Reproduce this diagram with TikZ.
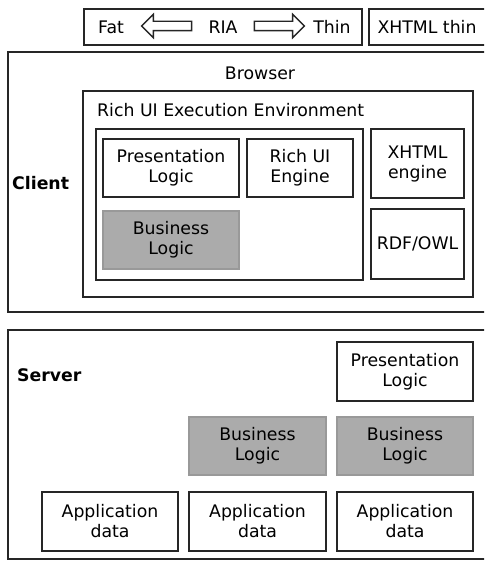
\documentclass[tikz,border=0pt]{standalone}
\usepackage{fontspec}
\setmainfont{DejaVu Sans}
\usetikzlibrary{shapes.arrows}
\begin{document}
\begin{tikzpicture}[x=1pt,y=-1pt]
            \tikzstyle{box}=[draw=black!85, line width=1.8pt, inner sep=0pt, align=center, font=\fontsize{17.3}{20}\selectfont]
            \tikzstyle{bizbox}=[box, draw=black!40, line width=1.2pt, fill=black!33]
            \tikzstyle{lbl}=[inner sep=0pt, font=\fontsize{17.3}{20}\selectfont]
            \tikzstyle{hollow}=[single arrow, draw=black!85, line width=1.4pt, fill=white, inner xsep=0pt, inner ysep=4pt, minimum height=50pt, single arrow head extend=7pt]
            \clip (0,0) rectangle (484,561);
            \fill[white] (0,0) rectangle (484,561);
            % top bar
            \node[box, minimum width=278pt, minimum height=36pt] (ria) at (223,27) {};
            \node[box, minimum width=121pt, minimum height=36pt] (xthin) at (429.5,27) {};
            \node[lbl] (fat) at (111,27) {Fat};
            \node[lbl] (mid) at (223,27) {RIA};
            \node[lbl] (thin) at (332,27) {Thin};
            \node[lbl] (xt) at (427,27) {XHTML thin};
            \node[hollow, shape border rotate=180] (toFat) at (169,26) {};
            \node[hollow] (toThin) at (277,26) {};
            % client
            \node[box, minimum width=482pt, minimum height=260pt] (client) at (249,182) {};
            \node[lbl, font=\fontsize{17.3}{20}\selectfont\bfseries, anchor=west] (clientlbl) at (12,183) {Client};
            \node[lbl] (browser) at (260,73) {Browser};
            \node[box, minimum width=390pt, minimum height=206pt] (env) at (278,194) {};
            \node[lbl, anchor=west] (envlbl) at (97,110) {Rich UI Execution Environment};
            \node[box, minimum width=267pt, minimum height=151pt] (inner) at (229.5,204.5) {};
            \node[box, minimum width=136pt, minimum height=58pt] (presC) at (171,168) {Presentation\\Logic};
            \node[box, minimum width=106pt, minimum height=58pt] (engine) at (300,168) {Rich UI\\Engine};
            \node[bizbox, minimum width=136pt, minimum height=58pt] (bizC) at (171,240) {Business\\Logic};
            \node[box, minimum width=93pt, minimum height=69pt] (xhtml) at (417.5,163.5) {XHTML\\engine};
            \node[box, minimum width=93pt, minimum height=70pt] (rdf) at (417.5,244) {RDF/OWL};
            % server
            \node[box, minimum width=482pt, minimum height=229pt] (server) at (249,444.5) {};
            \node[lbl, font=\fontsize{17.3}{20}\selectfont\bfseries, anchor=west] (serverlbl) at (17,375) {Server};
            \node[box, minimum width=136pt, minimum height=59pt] (presS) at (405,371.5) {Presentation\\Logic};
            \node[bizbox, minimum width=137pt, minimum height=58pt] (bizA) at (257.5,446) {Business\\Logic};
            \node[bizbox, minimum width=136pt, minimum height=58pt] (bizB) at (405,446) {Business\\Logic};
            \node[box, minimum width=136pt, minimum height=59pt] (dataA) at (110,521.5) {Application\\data};
            \node[box, minimum width=137pt, minimum height=59pt] (dataB) at (257.5,521.5) {Application\\data};
            \node[box, minimum width=136pt, minimum height=59pt] (dataC) at (405,521.5) {Application\\data};
        \end{tikzpicture}
\end{document}
